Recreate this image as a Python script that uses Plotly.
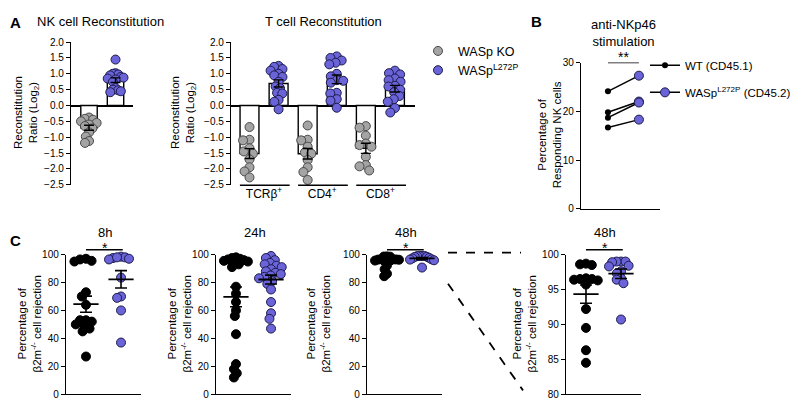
import numpy as np
import plotly.graph_objects as go

W, H = 799, 400

# ---------------- data ----------------
# A: NK cell reconstitution ratio (log2)
nk_ko = [-0.38, -0.42, -0.45, -0.5, -0.55, -0.6, -0.65, -0.72, -0.85, -0.98, -1.12, -1.18]
nk_l272p = [1.45, 1.02, 1.0, 0.98, 0.95, 0.9, 0.88, 0.85, 0.82, 0.75, 0.55, 0.5, 0.48, 0.45, 0.42]

# A: T cell reconstitution ratio (log2)
t_groups = ["TCRβ<sup>+</sup>", "CD4<sup>+</sup>", "CD8<sup>+</sup>"]
tcr_ko = [-0.68, -1.08, -1.1, -1.35, -1.45, -1.52, -1.7, -1.95, -2.08, -2.27]
tcr_l272p = [1.25, 1.22, 1.15, 1.1, 1.0, 0.95, 0.9, 0.75, 0.6, 0.55, 0.4, 0.38, 0.18, 0.12, -0.12]
cd4_ko = [-0.63, -1.08, -1.1, -1.3, -1.48, -1.52, -1.72, -1.95, -2.1, -2.35]
cd4_l272p = [1.55, 1.5, 1.42, 1.35, 1.3, 1.0, 0.92, 0.8, 0.78, 0.72, 0.4, 0.38, 0.2, 0.15, -0.07]
cd8_ko = [-0.65, -0.7, -0.95, -1.2, -1.25, -1.3, -1.62, -1.88, -1.92, -2.05]
cd8_l272p = [1.1, 1.02, 0.98, 0.85, 0.8, 0.75, 0.62, 0.6, 0.5, 0.42, 0.3, 0.2, 0.12, -0.08, -0.22]

# B: anti-NKp46 stimulation, paired
nkp46_wt = [24.1, 19.8, 18.7, 16.7]
nkp46_l272p = [27.3, 22.0, 21.8, 18.3]

# C: b2m-/- cell rejection (%)
rej8_wt = [97, 96.5, 95.5, 95, 73, 70, 64, 53, 53, 52, 50, 49, 47, 45, 27]
rej8_l272p = [98.5, 98, 97.5, 97, 96.5, 98, 83.5, 70, 69, 60, 37]
rej24_wt = [98, 97.5, 97, 96.5, 96, 95.5, 95, 94, 93, 91, 77, 72, 66, 60, 56, 43, 21.6, 18, 15, 12]
rej24_l272p = [99, 97.5, 96, 94, 93, 92, 91, 89.5, 88, 87, 86, 85, 84, 83, 81, 79, 75, 66, 58, 54, 47]
rej48_wt = [98.7, 98.6, 98.5, 96.6, 96.5, 96.5, 96.4, 96.3, 95.7, 92.2, 89.5, 86.3, 84.5]
rej48_l272p = [99.0, 99.0, 99.0, 98.9, 98.4, 98.3, 97.6, 97.3, 96.6, 96.4, 95.9, 90.7]

# ---------------- style ----------------
FONT = "Liberation Sans, Arial, sans-serif"
GREY, GREY_LINE = "#a4a4a4", "#4a4a4a"
BLUE, BLUE_LINE = "#6b64d8", "#1c1c4c"


def fx(p):
    return p / W


def fy(p):
    return 1 - p / H


def swarm(vals, y_ppu, x_ppu, diam, maxw):
    # simple beeswarm, then squeezed so the cloud stays within +-maxw px
    placed = []
    offs = np.zeros(len(vals))
    for i in np.argsort(vals)[::-1]:
        y = vals[i] * y_ppu
        cands = [0.0]
        for yj, xj in placed:
            dy = abs(y - yj)
            if dy < diam:
                dx = np.sqrt(diam ** 2 - dy ** 2)
                cands += [xj + dx, xj - dx]
        cands.sort(key=lambda c: (round(abs(c), 3), c))
        for c in cands:
            if all((c - xj) ** 2 + (y - yj) ** 2 >= diam ** 2 - 1e-6 for yj, xj in placed):
                break
        placed.append((y, c))
        offs[i] = c
    widest = np.abs(offs).max()
    if widest > maxw:
        offs = offs * maxw / widest
    return offs / x_ppu


def sem(v):
    return np.std(v, ddof=1) / np.sqrt(len(v))


fig = go.Figure()

axis_common = dict(showgrid=False, zeroline=False, linecolor="black", linewidth=1.4,
                   tickcolor="black", tickwidth=1.2, ticklen=4,
                   tickfont=dict(size=10, color="black", family=FONT))

# subplot pixel boxes: (x0, x1, ytop, ybottom, yrange, xrange)
boxes = {
    1: (63, 125, 29, 176, [-2.5, 2.0], [-0.68, 1.66]),
    2: (223, 407, 29, 176, [-2.5, 2.0], [-0.636, 5.69]),
    3: (573, 652, 50, 201, [0, 30], [-0.87, 1.68]),
    4: (58, 133, 248, 392, [0, 100], [-0.57, 1.57]),
    5: (208, 283, 248, 392, [0, 100], [-0.57, 1.57]),
    6: (359, 434, 248, 392, [0, 100], [-0.57, 1.57]),
    7: (558, 633, 248, 392, [80, 100], [-0.57, 1.57]),
}
layout_axes = {}
for k, (x0, x1, yt, yb, yr, xr) in boxes.items():
    xs = "" if k == 1 else str(k)
    ya = dict(axis_common, domain=[fy(yb), fy(yt)], range=yr, anchor="x" + xs,
              showline=True, ticks="outside")
    xa = dict(axis_common, domain=[fx(x0), fx(x1)], range=xr, anchor="y" + xs,
              showticklabels=False, ticks="", showline=k >= 3)
    layout_axes["xaxis" + xs] = xa
    layout_axes["yaxis" + xs] = ya

layout_axes["yaxis"].update(dtick=0.5, tickformat=".1f", zeroline=True,
                            zerolinecolor="black", zerolinewidth=1.5)
layout_axes["yaxis2"].update(dtick=0.5, tickformat=".1f", zeroline=True,
                             zerolinecolor="black", zerolinewidth=1.5)
layout_axes["xaxis2"].update(showticklabels=True, tickvals=[0.5, 2.5, 4.5], ticktext=t_groups,
                             ticks="", tickfont=dict(size=12, color="black", family=FONT))
layout_axes["yaxis3"].update(dtick=10)
for k in (4, 5, 6):
    layout_axes["yaxis" + str(k)].update(dtick=20)
layout_axes["yaxis7"].update(dtick=5)


def px_per_unit(k):
    x0, x1, yt, yb, yr, xr = boxes[k]
    return (yb - yt) / (yr[1] - yr[0]), (x1 - x0) / (xr[1] - xr[0])


# ---------------- A panels: bars + points ----------------
def bar_panel(k, series, bar_w, show_legend):
    xs = "" if k == 1 else str(k)
    ypu, xpu = px_per_unit(k)
    for i, (vals, fill, edge, name) in enumerate(series):
        m = float(np.mean(vals))
        fig.add_trace(go.Bar(x=[i], y=[m], width=bar_w, marker=dict(color="white", line=dict(color="black", width=1.4)),
                             xaxis="x" + xs, yaxis="y" + xs, showlegend=False, hoverinfo="skip"))
    for i, (vals, fill, edge, name) in enumerate(series):
        v = np.array(vals)
        off = swarm(v, ypu, xpu, 6.5, 8)
        fig.add_trace(go.Scatter(x=i + off, y=v, mode="markers", name=name,
                                 marker=dict(size=9, color=fill, line=dict(color=edge, width=1)),
                                 xaxis="x" + xs, yaxis="y" + xs, cliponaxis=False,
                                 showlegend=show_legend and i < 2, legend="legend"))
    for i, (vals, fill, edge, name) in enumerate(series):
        fig.add_trace(go.Scatter(x=[i], y=[np.mean(vals)], mode="markers",
                                 marker=dict(size=1, color="rgba(0,0,0,0)"),
                                 error_y=dict(type="data", array=[sem(vals)], color="black", thickness=1.4, width=5),
                                 xaxis="x" + xs, yaxis="y" + xs, showlegend=False, hoverinfo="skip"))


bar_panel(1, [(nk_ko, GREY, GREY_LINE, "WASp KO"), (nk_l272p, BLUE, BLUE_LINE, "WASp<sup>L272P</sup>")], 0.62, True)
bar_panel(2, [(tcr_ko, GREY, GREY_LINE, "WASp KO"), (tcr_l272p, BLUE, BLUE_LINE, "WASp<sup>L272P</sup>"),
              (cd4_ko, GREY, GREY_LINE, "WASp KO"), (cd4_l272p, BLUE, BLUE_LINE, "WASp<sup>L272P</sup>"),
              (cd8_ko, GREY, GREY_LINE, "WASp KO"), (cd8_l272p, BLUE, BLUE_LINE, "WASp<sup>L272P</sup>")], 0.65, False)

# ---------------- B panel ----------------
for a, b in zip(nkp46_wt, nkp46_l272p):
    fig.add_trace(go.Scatter(x=[0, 1], y=[a, b], mode="lines", line=dict(color="black", width=1.5),
                             xaxis="x3", yaxis="y3", showlegend=False, hoverinfo="skip"))
xs_wt, ys_wt, xs_l, ys_l = [], [], [], []
for a, b in zip(nkp46_wt, nkp46_l272p):
    xs_wt += [0, None]
    ys_wt += [a, None]
    xs_l += [1, None]
    ys_l += [b, None]
fig.add_trace(go.Scatter(x=xs_wt, y=ys_wt, mode="lines+markers", name="WT (CD45.1)", connectgaps=False,
                         line=dict(color="black", width=1.5), marker=dict(size=6, color="black"),
                         xaxis="x3", yaxis="y3", cliponaxis=False, legend="legend2", legendgroup="wt"))
fig.add_trace(go.Scatter(x=xs_l, y=ys_l, mode="lines+markers", name="WASp<sup>L272P</sup> (CD45.2)",
                         connectgaps=False, line=dict(color="black", width=1.5),
                         marker=dict(size=9, color=BLUE, line=dict(color=BLUE_LINE, width=1)),
                         xaxis="x3", yaxis="y3", cliponaxis=False, legend="legend2", legendgroup="mut"))

# ---------------- C panels ----------------
def dot_panel(k, wt, mut):
    xs = str(k)
    ypu, xpu = px_per_unit(k)
    lo = boxes[k][4][0]
    for i, (vals, fill, edge) in enumerate([(wt, "black", "black"), (mut, BLUE, BLUE_LINE)]):
        v = np.array(vals)
        off = swarm(v - lo, ypu, xpu, 6.0, 12)
        fig.add_trace(go.Scatter(x=i + off, y=v, mode="markers",
                                 marker=dict(size=9, color=fill, line=dict(color=edge, width=1)),
                                 xaxis="x" + xs, yaxis="y" + xs, cliponaxis=False, showlegend=False))
    for i, vals in enumerate([wt, mut]):
        m = float(np.mean(vals))
        fig.add_trace(go.Scatter(x=[i - 0.36, i + 0.36], y=[m, m], mode="lines",
                                 line=dict(color="black", width=1.8),
                                 xaxis="x" + xs, yaxis="y" + xs, showlegend=False, hoverinfo="skip"))
        fig.add_trace(go.Scatter(x=[i], y=[m], mode="markers", marker=dict(size=1, color="rgba(0,0,0,0)"),
                                 error_y=dict(type="data", array=[sem(vals)], color="black", thickness=1.6, width=6),
                                 xaxis="x" + xs, yaxis="y" + xs, cliponaxis=False, showlegend=False, hoverinfo="skip"))


dot_panel(4, rej8_wt, rej8_l272p)
dot_panel(5, rej24_wt, rej24_l272p)
dot_panel(6, rej48_wt, rej48_l272p)
dot_panel(7, rej48_wt, rej48_l272p)

# ---------------- text ----------------
ann = []


def text(x, y, s, size=13, bold=False, angle=0, xanchor="center", yanchor="middle"):
    if bold:
        s = "<b>" + s + "</b>"
    ann.append(dict(x=fx(x), y=fy(y), xref="paper", yref="paper", text=s, showarrow=False,
                    textangle=angle, xanchor=xanchor, yanchor=yanchor,
                    font=dict(size=size, color="black", family=FONT)))


text(0, 9, "A", 15, True, xanchor="left")
text(27, 8, "NK cell Reconstitution", xanchor="left")
text(315, 8, "T cell Reconstitution")
text(521, 8, "B", 15, True, xanchor="left")
text(615, 20, "anti-NKp46<br>stimulation")
text(615, 44, "**", 14)
text(0, 234, "C", 15, True, xanchor="left")

ylab_a = "Reconstitution<br>Ratio (Log<sub>2</sub>)"
text(19, 102, ylab_a, 11.5, angle=-90)
text(176, 102, ylab_a, 11.5, angle=-90)
text(541, 125, "Percentage of<br>Responding NK cells", 11.5, angle=-90)
ylab_c = "Percentage of<br>β2m<sup>-/-</sup> cell rejection"
for xc in (21, 171, 310, 516):
    text(xc, 320, ylab_c, 11.5, angle=-90)

shapes = []
titles_c = {4: "8h", 5: "24h", 6: "48h", 7: "48h"}
for k, t in titles_c.items():
    x0 = boxes[k][0]
    cx = x0 + 0.52 * (boxes[k][1] - x0)
    text(cx, 225, t)
    if k != 5:
        text(cx, 241, "*", 14)
        shapes.append(dict(type="line", xref="x" + str(k), yref="paper", x0=0, x1=1.05,
                           y0=fy(243), y1=fy(243), line=dict(color="black", width=1.4)))

# B significance line
shapes.append(dict(type="line", xref="x3", yref="y3", x0=0, x1=1, y0=30, y1=30,
                   line=dict(color="black", width=1.4)))
# T cell group underlines
for g in range(len(t_groups)):
    shapes.append(dict(type="line", xref="x2", yref="paper", x0=2 * g - 0.33, x1=2 * g + 1.38,
                       y0=fy(176.5), y1=fy(176.5), line=dict(color="black", width=1.4)))
# dashed zoom guides between the two 48h panels
shapes.append(dict(type="line", xref="paper", yref="paper", x0=fx(440), x1=fx(513), y0=fy(246), y1=fy(246),
                   line=dict(color="black", width=1.8, dash="dash")))
shapes.append(dict(type="line", xref="paper", yref="paper", x0=fx(440), x1=fx(515), y0=fy(278), y1=fy(388),
                   line=dict(color="black", width=1.8, dash="dash")))

fig.update_layout(
    width=W, height=H, margin=dict(l=0, r=0, t=0, b=0),
    paper_bgcolor="white", plot_bgcolor="white",
    font=dict(family=FONT, color="black"),
    annotations=ann, shapes=shapes, barmode="overlay",
    legend=dict(x=fx(410), y=fy(23), xanchor="left", yanchor="top", bgcolor="rgba(0,0,0,0)",
                font=dict(size=12.5, family=FONT, color="black"), tracegroupgap=0),
    legend2=dict(x=fx(637), y=fy(38), xanchor="left", yanchor="top", bgcolor="rgba(0,0,0,0)",
                 font=dict(size=11.5, family=FONT, color="black"), tracegroupgap=8,
                 traceorder="grouped"),
    **layout_axes,
)

fig.write_html("out.html")
